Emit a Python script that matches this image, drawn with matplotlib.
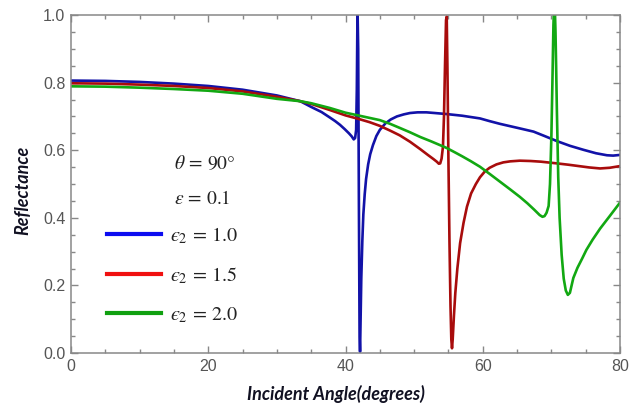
import matplotlib
matplotlib.use("Agg")
import matplotlib.pyplot as plt
from matplotlib.lines import Line2D
from matplotlib.ticker import MultipleLocator

plt.rcParams['mathtext.fontset'] = 'stix'

# ---- data ----
angle_e1 = [0, 5, 10, 15, 20, 25, 30, 33.4, 35, 36.5, 37.7, 38.5, 39.2, 39.9, 40.5, 40.9,
            41.2, 41.4, 41.55, 41.65, 41.75, 41.85, 41.95, 42.05, 42.12, 42.2, 42.3, 42.45,
            42.6, 42.8, 43.0, 43.3, 43.6, 44.0, 44.5, 45.0, 45.8, 46.6, 47.5, 48.5, 49.4,
            50.5, 51.8, 53, 54.7, 57, 59.6, 61, 62.5, 64, 65.5, 67.4, 69, 70.8, 72.7, 74.7,
            76.5, 78.1, 79, 80]
refl_e1 = [0.806, 0.805, 0.802, 0.797, 0.790, 0.779, 0.762, 0.745, 0.728, 0.713, 0.697, 0.686,
           0.675, 0.662, 0.650, 0.641, 0.632, 0.636, 0.66, 0.78, 1.02, 0.90, 0.45, 0.05,
           0.004, 0.10, 0.22, 0.33, 0.41, 0.47, 0.515, 0.558, 0.588, 0.615, 0.642, 0.660,
           0.679, 0.691, 0.700, 0.706, 0.710, 0.712, 0.712, 0.710, 0.707, 0.702, 0.694, 0.686,
           0.678, 0.671, 0.664, 0.655, 0.642, 0.627, 0.613, 0.601, 0.591, 0.585, 0.584, 0.586]

angle_e15 = [0, 5, 10, 15, 20, 25, 30, 33.4, 35, 37.7, 40, 42, 43.5, 45, 46.5, 47.9, 49.4,
             50.9, 52, 52.8, 53.3, 53.6, 53.8, 54.0, 54.2, 54.35, 54.5, 54.65, 54.75, 54.85,
             55.0, 55.15, 55.3, 55.42, 55.52, 55.62, 55.8, 56.0, 56.3, 56.7, 57.2, 57.7, 58.3,
             59, 59.6, 60.3, 61, 62, 63, 64, 65.4, 67, 68.5, 70.8, 72.5, 74, 75.5, 77.1, 78.5, 80]
refl_e15 = [0.798, 0.797, 0.794, 0.790, 0.784, 0.774, 0.758, 0.745, 0.737, 0.719, 0.703, 0.692,
            0.683, 0.672, 0.658, 0.644, 0.625, 0.603, 0.586, 0.574, 0.566, 0.560, 0.561, 0.575,
            0.61, 0.70, 0.85, 0.985, 0.995, 0.85, 0.57, 0.33, 0.14, 0.04, 0.014, 0.04, 0.11,
            0.177, 0.25, 0.325, 0.385, 0.433, 0.472, 0.500, 0.520, 0.537, 0.548, 0.558, 0.564,
            0.567, 0.569, 0.568, 0.566, 0.561, 0.557, 0.553, 0.549, 0.546, 0.548, 0.553]

angle_e2 = [0, 5, 10, 15, 20, 25, 30, 33.4, 35, 37.7, 40, 42.5, 45, 46.5, 47.9, 49.4, 50.9,
            52.5, 54.7, 56, 57, 58.3, 59.6, 61, 62.5, 64, 65.4, 66.5, 67.5, 68.3, 68.7, 69.0,
            69.3, 69.6, 69.8, 70.0, 70.15, 70.3, 70.45, 70.6, 70.7, 70.8, 70.9, 71.0, 71.2,
            71.5, 71.8, 72.1, 72.4, 72.7, 73.2, 73.8, 74.5, 75.1, 76, 77.1, 78.5, 80]
refl_e2 = [0.789, 0.788, 0.785, 0.781, 0.776, 0.767, 0.752, 0.745, 0.739, 0.725, 0.711, 0.700,
           0.689, 0.678, 0.666, 0.653, 0.639, 0.626, 0.607, 0.593, 0.582, 0.567, 0.551, 0.530,
           0.507, 0.484, 0.462, 0.443, 0.424, 0.408, 0.403, 0.405, 0.415, 0.435, 0.50, 0.64,
           0.80, 0.97, 1.06, 0.95, 0.84, 0.72, 0.62, 0.52, 0.40, 0.29, 0.22, 0.185, 0.172,
           0.178, 0.222, 0.252, 0.28, 0.305, 0.335, 0.368, 0.405, 0.445]

labels = ['$\u03f5_2\\,=\\,1.0$', '$\u03f5_2\\,=\\,1.5$', '$\u03f5_2\\,=\\,2.0$']
curve_colors = ['#1212a8', '#a80c0c', '#12a812']
legend_colors = ['#0c0cf0', '#f01010', '#10a010']
xticks = [0, 20, 40, 60, 80]
yticks = [0.0, 0.2, 0.4, 0.6, 0.8, 1.0]

fig = plt.figure(figsize=(6.37, 4.04), dpi=100)
ax = fig.add_axes([71/637, 51/404, 549/637, 338/404])

for a, r, c in zip([angle_e1, angle_e15, angle_e2], [refl_e1, refl_e15, refl_e2], curve_colors):
    ax.plot(a, r, color=c, lw=1.9, solid_joinstyle='round')

ax.set_xlim(0, 80)
ax.set_ylim(0, 1.0)
ax.set_xticks(xticks)
ax.set_xticklabels([str(v) for v in xticks])
ax.set_yticks(yticks)
ax.set_yticklabels([f'{v:.1f}' for v in yticks])
ax.xaxis.set_minor_locator(MultipleLocator(5))
ax.yaxis.set_minor_locator(MultipleLocator(0.05))
ax.tick_params(which='both', direction='in', top=True, right=True, colors='#888888',
               labelcolor='#555555', width=1.0)
ax.tick_params(which='major', length=5, labelsize=11.5, pad=4)
ax.tick_params(which='minor', length=3)
for lab in ax.get_xticklabels() + ax.get_yticklabels():
    lab.set_fontfamily('Liberation Sans')
for s in ax.spines.values():
    s.set_color('#888888')
    s.set_linewidth(1.1)

ax.set_xlabel('Incident Angle(degrees)', fontfamily='Lato', fontweight='bold',
              fontstyle='italic', fontsize=13, color='#111122')
ax.set_ylabel('Reflectance', fontfamily='Lato', fontweight='bold',
              fontstyle='italic', fontsize=13, color='#111122')
ax.xaxis.set_label_coords(0.483, -0.095)
ax.yaxis.set_label_coords(-0.072, 0.48)

ax.text(0.244, 0.562, r'$\theta\,=\,90°$', transform=ax.transAxes, ha='center', va='center',
        fontsize=14, color='#222222')
ax.text(0.240, 0.456, '$\u03b5\\,=\\,0.1$', transform=ax.transAxes, ha='center', va='center',
        fontsize=14, color='#222222')

handles = [Line2D([], [], color=c, lw=3) for c in legend_colors]
ax.legend(handles, labels, loc='center left', bbox_to_anchor=(0.0656, 0.231), frameon=False,
          borderpad=0, borderaxespad=0, handlelength=2.7, handletextpad=0.45,
          labelspacing=0.95, fontsize=14.5, labelcolor='#222222')

fig.savefig('out.png', dpi=100)
